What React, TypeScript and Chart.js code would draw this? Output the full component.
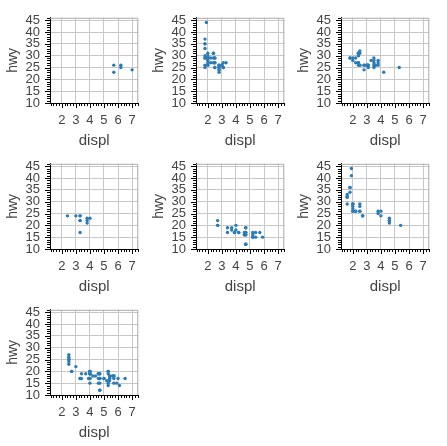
import React, { useEffect, useRef } from "react";
import { Chart, registerables } from "chart.js";
Chart.register(...registerables);

// mpg: displ vs hwy, one panel per class
const twoseaterDispl = [5.7, 5.7, 6.2, 6.2, 7.0];
const twoseaterHwy = [26, 23, 26, 25, 24];

const compactDispl = [
  1.8, 1.8, 2.0, 2.0, 2.8, 2.8, 3.1,
  1.8, 1.8, 2.0, 2.0, 2.8, 2.8, 3.1, 3.1,
  2.4, 2.4,
  2.2, 2.2, 2.4, 2.4, 3.0, 3.0, 3.3,
  1.8, 1.8, 1.8, 1.8, 1.8,
  2.0, 2.0, 2.0, 2.0, 2.8,
  1.9, 2.0, 2.0, 2.0, 2.0, 2.5, 2.5, 2.8, 2.8,
  2.5, 2.5, 2.5, 2.5,
];
const compactHwy = [
  29, 29, 31, 30, 26, 26, 27,
  26, 25, 28, 27, 25, 25, 25, 25,
  29, 27,
  29, 27, 31, 31, 26, 26, 27,
  30, 33, 35, 37, 35,
  29, 26, 29, 29, 24,
  44, 29, 26, 29, 29, 29, 29, 23, 24,
  25, 27, 25, 27,
];

const midsizeDispl = [
  2.8, 3.1, 4.2,
  2.4, 2.4, 3.1, 3.5, 3.6,
  2.4, 2.4, 2.4, 2.4, 2.5, 2.5, 3.3,
  2.5, 2.5, 3.5, 3.5,
  3.0, 3.0, 3.5,
  3.1, 3.8, 3.8, 3.8, 5.3,
  2.2, 2.2, 2.4, 2.4, 3.0, 3.0, 3.5,
  1.8, 1.8, 2.0, 2.0, 2.8, 2.8, 3.6,
];
const midsizeHwy = [
  24, 25, 23,
  27, 30, 26, 29, 26,
  26, 27, 30, 31, 26, 26, 28,
  31, 32, 27, 26,
  26, 26, 25,
  26, 26, 27, 28, 25,
  29, 27, 31, 31, 26, 26, 28,
  29, 29, 28, 29, 26, 26, 26,
];

const minivanDispl = [2.4, 3.0, 3.3, 3.3, 3.3, 3.3, 3.3, 3.8, 3.8, 3.8, 4.0];
const minivanHwy = [24, 24, 22, 22, 24, 24, 17, 22, 21, 23, 23];

const pickupDispl = [
  3.7, 3.7, 3.9, 3.9, 4.7, 4.7, 4.7, 5.2, 5.2,
  4.7, 4.7, 4.7, 4.7, 4.7, 4.7, 5.2, 5.2, 5.7, 5.9,
  4.2, 4.2, 4.6, 4.6, 4.6, 5.4, 5.4,
  2.7, 2.7, 2.7, 3.4, 3.4, 4.0, 4.0,
];
const pickupHwy = [
  19, 18, 17, 17, 19, 19, 12, 17, 15,
  16, 12, 17, 17, 16, 12, 15, 16, 17, 15,
  17, 17, 16, 16, 17, 15, 17,
  20, 20, 22, 17, 19, 18, 20,
];

const subcompactDispl = [
  3.8, 3.8, 4.0, 4.0, 4.6, 4.6, 4.6, 4.6, 5.4,
  1.6, 1.6, 1.6, 1.6, 1.6, 1.8, 1.8, 1.8, 2.0,
  2.0, 2.0, 2.0, 2.0, 2.7, 2.7, 2.7,
  2.2, 2.2, 2.5, 2.5,
  1.9, 1.9, 2.0, 2.0, 2.5, 2.5,
];
const subcompactHwy = [
  26, 25, 26, 24, 21, 22, 23, 22, 20,
  33, 32, 32, 29, 32, 34, 36, 36, 29,
  26, 29, 28, 27, 24, 24, 24,
  26, 26, 26, 26,
  44, 41, 29, 26, 28, 29,
];

const suvDispl = [
  5.3, 5.3, 5.3, 5.7, 6.0,
  5.3, 5.3, 5.7, 6.5,
  3.9, 4.7, 4.7, 4.7, 5.2, 5.7, 5.9,
  4.6, 5.4, 5.4,
  4.0, 4.0, 4.0, 4.0, 4.6, 5.0,
  3.0, 3.7, 4.0, 4.7, 4.7, 4.7, 5.7, 6.1,
  4.0, 4.2, 4.4, 4.6,
  5.4, 5.4, 5.4,
  4.0, 4.0, 4.6, 5.0,
  3.3, 3.3, 4.0, 5.6,
  2.5, 2.5, 2.5, 2.5, 2.5, 2.5,
  2.7, 2.7, 3.4, 3.4, 4.0, 4.7,
  4.7, 5.7,
];
const suvHwy = [
  20, 15, 20, 17, 17,
  19, 14, 15, 17,
  17, 17, 12, 17, 16, 18, 15,
  17, 17, 18,
  17, 19, 19, 19, 19, 17,
  22, 19, 20, 17, 19, 12, 18, 14,
  15, 18, 18, 15,
  17, 16, 18,
  17, 19, 19, 17,
  17, 17, 20, 18,
  25, 24, 27, 25, 26, 23,
  20, 20, 19, 17, 20, 19,
  15, 18,
];

const panels = [
  { displ: twoseaterDispl, hwy: twoseaterHwy },
  { displ: compactDispl, hwy: compactHwy },
  { displ: midsizeDispl, hwy: midsizeHwy },
  { displ: minivanDispl, hwy: minivanHwy },
  { displ: pickupDispl, hwy: pickupHwy },
  { displ: subcompactDispl, hwy: subcompactHwy },
  { displ: suvDispl, hwy: suvHwy },
];

const xMajor = [2, 3, 4, 5, 6, 7];
const yMajor = [10, 15, 20, 25, 30, 35, 40, 45];
const X_MIN = 1.16;
const X_MAX = 7.44;
const Y_MIN = 10;
const Y_MAX = 46;

const FONT = "'Liberation Sans', Arial, Helvetica, sans-serif";
const TEXT = "#444444";
const DOT = "#2c7bb6";

const axisPlugin = {
  id: "axisDecor",
  afterDraw(chart: any) {
    const { ctx, chartArea: a, scales } = chart;
    const xs = scales.x;
    const ys = scales.y;
    ctx.save();
    // gray frame top/right
    ctx.strokeStyle = "#aaaaaa";
    ctx.lineWidth = 1;
    ctx.beginPath();
    ctx.moveTo(a.left, a.top + 0.5);
    ctx.lineTo(a.right - 0.5, a.top + 0.5);
    ctx.lineTo(a.right - 0.5, a.bottom);
    ctx.stroke();
    // tick marks
    ctx.strokeStyle = "#000000";
    ctx.beginPath();
    for (let i = Math.ceil(X_MIN * 5); i <= Math.floor(X_MAX * 5); i++) {
      const v = i / 5;
      const px = Math.round(xs.getPixelForValue(v)) + 0.5;
      const major = i % 5 === 0;
      ctx.moveTo(px, a.bottom);
      ctx.lineTo(px, a.bottom + (major ? 5 : 3));
    }
    for (let v = Y_MIN; v <= Y_MAX; v++) {
      const py = Math.round(ys.getPixelForValue(v)) + 0.5;
      const major = v % 5 === 0;
      ctx.moveTo(a.left, py);
      ctx.lineTo(a.left - (major ? 5 : 3), py);
    }
    ctx.stroke();
    ctx.restore();
  },
};

function Panel({ displ, hwy, left, top }: any) {
  const ref = useRef<HTMLCanvasElement>(null);
  useEffect(() => {
    const points = displ.map((d: number, i: number) => ({ x: d, y: hwy[i] }));
    const chart = new Chart(ref.current as HTMLCanvasElement, {
      type: "scatter",
      data: {
        datasets: [
          {
            data: points,
            backgroundColor: DOT,
            borderWidth: 0,
            pointRadius: 1.7,
            pointHoverRadius: 1.7,
          },
        ],
      },
      options: {
        animation: false,
        responsive: false,
        maintainAspectRatio: false,
        events: [],
        layout: { padding: { top: 11, right: 4, left: 0, bottom: 2 } },
        plugins: { legend: { display: false }, tooltip: { enabled: false } },
        scales: {
          x: {
            type: "linear",
            min: X_MIN,
            max: X_MAX,
            afterBuildTicks: (s: any) => {
              s.ticks = xMajor.map((v) => ({ value: v }));
            },
            afterFit: (s: any) => {
              s.height = 47;
            },
            grid: { color: "#c8c8c8", drawTicks: false, lineWidth: 1 },
            border: { display: true, color: "#000000", width: 1 },
            ticks: {
              padding: 10,
              color: TEXT,
              font: { family: FONT, size: 13 },
              maxRotation: 0,
              autoSkip: false,
            },
            title: {
              display: true,
              text: "displ",
              color: TEXT,
              font: { family: FONT, size: 15 },
              padding: 0,
            },
          },
          y: {
            type: "linear",
            min: Y_MIN,
            max: Y_MAX,
            afterBuildTicks: (s: any) => {
              s.ticks = yMajor.map((v) => ({ value: v }));
            },
            afterFit: (s: any) => {
              s.width = 50;
            },
            grid: { color: "#c8c8c8", drawTicks: false, lineWidth: 1 },
            border: { display: true, color: "#000000", width: 1 },
            ticks: {
              padding: 10,
              color: TEXT,
              font: { family: FONT, size: 13 },
              autoSkip: false,
            },
            title: {
              display: true,
              text: "hwy",
              color: TEXT,
              font: { family: FONT, size: 14 },
              padding: { top: 5, bottom: 0 },
            },
          },
        },
      },
      plugins: [axisPlugin],
    });
    return () => chart.destroy();
  }, [displ, hwy]);
  return (
    <canvas
      ref={ref}
      width={146}
      height={152}
      style={{ position: "absolute", left, top, width: 146, height: 152 }}
    />
  );
}

export default function App() {
  return (
    <div
      style={{
        position: "absolute",
        left: 0,
        top: 0,
        width: 447,
        height: 446,
        background: "#ffffff",
        overflow: "hidden",
      }}
    >
      {panels.map((p, i) => (
        <Panel
          key={i}
          displ={p.displ}
          hwy={p.hwy}
          left={(i % 3) * 145.5}
          top={Math.floor(i / 3) * 146}
        />
      ))}
    </div>
  );
}
